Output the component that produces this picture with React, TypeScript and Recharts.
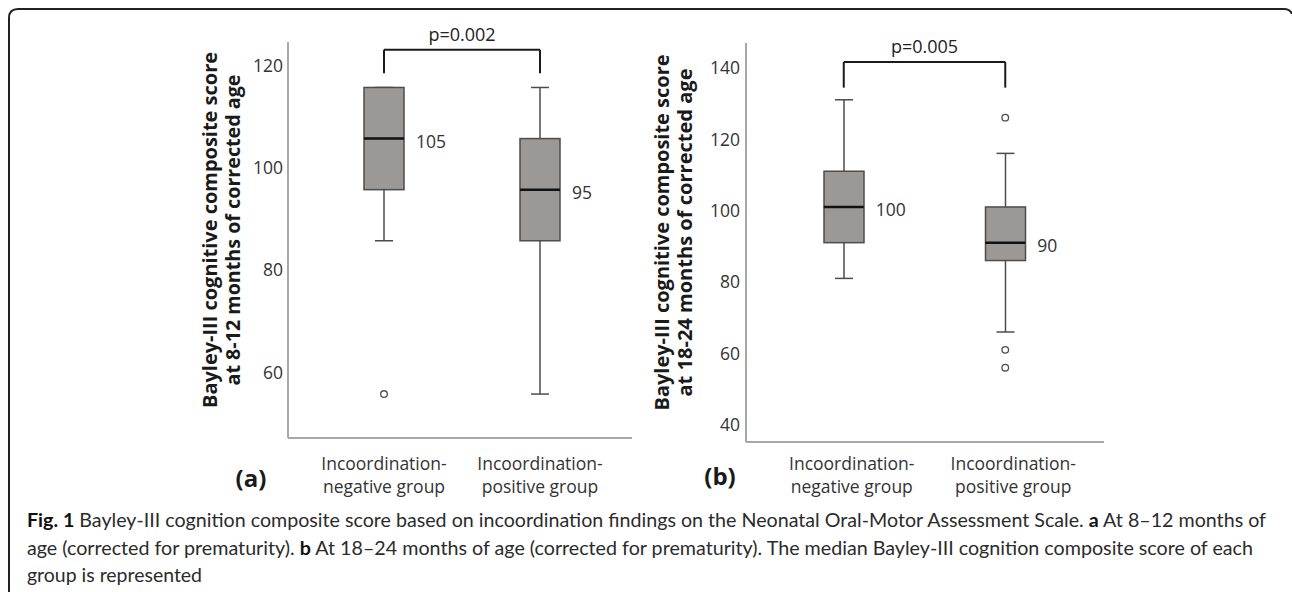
import { ComposedChart, Bar, Scatter, XAxis, YAxis, ReferenceLine } from 'recharts';

const FONT = '"Open Sans", "Noto Sans", sans-serif';
const CAPTION_FONT = 'Lato, "Open Sans", sans-serif';

// categories shared by both panels
const groups = ['Incoordination-negative group', 'Incoordination-positive group'];

// (a) 8-12 months
const minA = [85, 55];
const q1A = [95, 85];
const medA = [105, 95];
const q3A = [115, 105];
const maxA = [115, 115];
const outA = [[55], []];
const ticksA = [60, 80, 100, 120];
const domainA: [number, number] = [46.4, 123.9];
const bracketA = { top: 122.4, leg: 117.8, p: 'p=0.002' };

// (b) 18-24 months
const minB = [80, 65];
const q1B = [90, 85];
const medB = [100, 90];
const q3B = [110, 100];
const maxB = [130, 115];
const outB = [[], [125, 60, 55]];
const ticksB = [40, 60, 80, 100, 120, 140];
const domainB: [number, number] = [34.2, 145.9];
const bracketB = { top: 140.6, leg: 133.4, p: 'p=0.005' };

const titleLine1 = 'Bayley-III cognitive composite score';
const titleA2 = 'at 8-12 months of corrected age';
const titleB2 = 'at 18-24 months of corrected age';

function buildRows(mins: number[], q1s: number[], meds: number[], q3s: number[], maxs: number[], outs: number[][]) {
  return groups.map((name, i) => {
    const row: any = { name, min: mins[i], q1: q1s[i], median: meds[i], q3: q3s[i], max: maxs[i] };
    for (let k = 0; k < 3; k++) row['out' + k] = outs[i][k] ?? null;
    return row;
  });
}

const rowsA = buildRows(minA, q1A, medA, q3A, maxA, outA);
const rowsB = buildRows(minB, q1B, medB, q3B, maxB, outB);

const AXIS = { stroke: '#a8a8a8', strokeWidth: 2 };
const LINE = '#4d4d4d';

const Whisker = (p: any) => {
  const cx = p.x + p.width / 2;
  const y1 = Math.min(p.y, p.y + p.height);
  const y2 = Math.max(p.y, p.y + p.height);
  return (
    <g stroke={LINE} strokeWidth={1.5}>
      <line x1={cx} x2={cx} y1={y1} y2={y2} />
      <line x1={cx - 9} x2={cx + 9} y1={y1} y2={y1} />
      <line x1={cx - 9} x2={cx + 9} y1={y2} y2={y2} />
    </g>
  );
};

const BoxShape = (p: any) => {
  const y1 = Math.min(p.y, p.y + p.height);
  return (
    <rect x={p.x} y={y1} width={p.width} height={Math.abs(p.height)} fill="#9c9896" stroke={LINE} strokeWidth={1.5} />
  );
};

const MedianShape = (p: any) => (
  <g>
    <line x1={p.cx - 20} x2={p.cx + 20} y1={p.cy} y2={p.cy} stroke="#111" strokeWidth={2.5} />
    <text x={p.cx + 32} y={p.cy + 2} dominantBaseline="central" fontSize={17.5} fill="#333" fontFamily={FONT}>
      {p.payload.median}
    </text>
  </g>
);

const outlierShape = (key: string) => (p: any) =>
  p.payload[key] == null ? <g /> : (
    <circle cx={p.cx} cy={p.cy} r={3.3} fill="#fff" stroke={LINE} strokeWidth={1.3} />
  );

interface PanelProps {
  rows: any[];
  domain: [number, number];
  ticks: number[];
  bracket: { top: number; leg: number; p: string };
  letter: string;
  title2: string;
  left: number;
  width: number;
  height: number;
  top: number;
  yWidth: number;
  padL: number;
  padR: number;
  tickGap: number;
  labelDx: number;
  labelDy: number;
  letterDx: number;
  letterDy: number;
  titleX1: number;
  titleX2: number;
}

function Panel(c: PanelProps) {
  const [g0, g1] = groups;
  const legStyle = { stroke: '#1a1a1a', strokeWidth: 2 };
  return (
    <div style={{ position: 'absolute', left: c.left, top: 0 }}>
      <ComposedChart
        width={c.width}
        height={c.height}
        data={c.rows}
        margin={{ top: c.top, right: 8, bottom: 12, left: 0 }}
        barGap={-40}
      >
        <XAxis
          dataKey="name"
          height={60}
          padding={{ left: c.padL, right: c.padR }}
          axisLine={AXIS}
          tickLine={false}
          tickSize={0}
          tickMargin={0}
          interval={0}
          tick={(p: any) => {
            const [a, b] = String(p.payload.value).split('-');
            const x = p.x + c.labelDx;
            return (
              <text x={x} y={p.y} textAnchor="middle" fontSize={17.5} fill="#333" fontFamily={FONT}>
                <tspan x={x} dy={c.labelDy}>{a}-</tspan>
                <tspan x={x} dy={23}>{b}</tspan>
              </text>
            );
          }}
          label={{
            content: (lp: any) => (
              <text
                x={lp.viewBox.x + c.letterDx}
                y={lp.viewBox.y + c.letterDy}
                textAnchor="middle"
                fontSize={24}
                fontWeight={700}
                fill="#1a1a1a"
                fontFamily={FONT}
              >
                {c.letter}
              </text>
            ),
          }}
        />
        <YAxis
          type="number"
          domain={c.domain}
          ticks={c.ticks}
          allowDataOverflow
          width={c.yWidth}
          axisLine={AXIS}
          tickLine={false}
          tickSize={0}
          tickMargin={c.tickGap}
          tick={(p: any) => (
            <text x={p.x} y={p.y + 3} textAnchor="end" dominantBaseline="central" fontSize={17.5} fill="#333" fontFamily={FONT}>
              {p.payload.value}
            </text>
          )}
          label={{
            content: (lp: any) => {
              const cy = lp.viewBox.y + lp.viewBox.height / 2 - 10;
              const x0 = lp.viewBox.x;
              return (
                <g fontFamily={FONT} fontWeight={700} fontSize={20} fill="#1a1a1a">
                  <text transform={`translate(${x0 + c.titleX1},${cy}) rotate(-90)`} textAnchor="middle" textLength={356} lengthAdjust="spacingAndGlyphs">
                    {titleLine1}
                  </text>
                  <text transform={`translate(${x0 + c.titleX2},${cy}) rotate(-90)`} textAnchor="middle" textLength={c.title2.length > 31 ? 328 : 311} lengthAdjust="spacingAndGlyphs">
                    {c.title2}
                  </text>
                </g>
              );
            },
          }}
        />
        <Bar dataKey={(d: any) => [d.min, d.max]} barSize={40} shape={Whisker} isAnimationActive={false} />
        <Bar dataKey={(d: any) => [d.q1, d.q3]} barSize={40} shape={BoxShape} isAnimationActive={false} />
        <Scatter dataKey="median" shape={MedianShape} isAnimationActive={false} />
        <Scatter dataKey="out0" shape={outlierShape('out0')} isAnimationActive={false} />
        <Scatter dataKey="out1" shape={outlierShape('out1')} isAnimationActive={false} />
        <Scatter dataKey="out2" shape={outlierShape('out2')} isAnimationActive={false} />
        <ReferenceLine
          segment={[{ x: g0, y: c.bracket.top }, { x: g1, y: c.bracket.top }]}
          ifOverflow="visible"
          {...legStyle}
          label={{ value: c.bracket.p, position: 'top', offset: 9, fontSize: 18, fill: '#222', fontFamily: FONT }}
        />
        <ReferenceLine segment={[{ x: g0, y: c.bracket.top }, { x: g0, y: c.bracket.leg }]} ifOverflow="visible" {...legStyle} />
        <ReferenceLine segment={[{ x: g1, y: c.bracket.top }, { x: g1, y: c.bracket.leg }]} ifOverflow="visible" {...legStyle} />
      </ComposedChart>
    </div>
  );
}

function Caption() {
  return (
    <svg width={1292} height={592} style={{ position: 'absolute', left: 0, top: 0, pointerEvents: 'none' }}>
      <path d="M 9 592 V 18 Q 9 9 18 9 H 1284 Q 1290 9 1292 14" fill="none" stroke="#222" strokeWidth={2} />
      <g fontFamily={CAPTION_FONT} fontSize={19} fill="#2b2b2b">
        <text x={27} y={527} textLength={1239} lengthAdjust="spacingAndGlyphs">
          <tspan fontWeight={700} fill="#111">Fig. 1</tspan>
          {' Bayley-III cognition composite score based on incoordination findings on the Neonatal Oral-Motor Assessment Scale. '}
          <tspan fontWeight={700} fill="#111">a</tspan>
          {' At 8–12 months of'}
        </text>
        <text x={27} y={555} textLength={1226} lengthAdjust="spacingAndGlyphs">
          {'age (corrected for prematurity). '}
          <tspan fontWeight={700} fill="#111">b</tspan>
          {' At 18–24 months of age (corrected for prematurity). The median Bayley-III cognition composite score of each'}
        </text>
        <text x={27} y={582} textLength={175} lengthAdjust="spacingAndGlyphs">
          group is represented
        </text>
      </g>
    </svg>
  );
}

export default function App() {
  return (
    <div style={{ position: 'absolute', left: 0, top: 0, width: 1292, height: 592, background: '#fff', fontFamily: FONT, overflow: 'hidden' }}>
      <Panel
        rows={rowsA}
        domain={domainA}
        ticks={ticksA}
        bracket={bracketA}
        letter="(a)"
        title2={titleA2}
        left={190}
        width={450}
        height={510}
        top={42}
        yWidth={98}
        padL={18}
        padR={14}
        tickGap={5}
        labelDx={0}
        labelDy={32}
        letterDx={-37}
        letterDy={49}
        titleX1={27}
        titleX2={50}
      />
      <Panel
        rows={rowsB}
        domain={domainB}
        ticks={ticksB}
        bracket={bracketB}
        letter="(b)"
        title2={titleB2}
        left={640}
        width={472}
        height={514}
        top={43}
        yWidth={106}
        padL={17}
        padR={18}
        tickGap={6}
        labelDx={8}
        labelDy={28}
        letterDx={-26}
        letterDy={43}
        titleX1={29}
        titleX2={52}
      />
      <Caption />
    </div>
  );
}
